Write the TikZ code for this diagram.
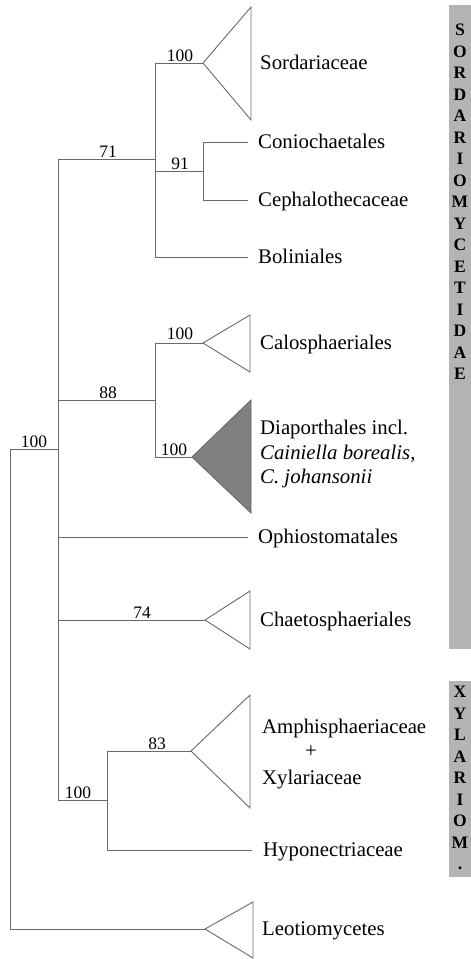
\documentclass[tikz,border=0pt]{standalone}
\usepackage{fontspec}
\setmainfont{Liberation Serif}
\definecolor{treegray}{RGB}{105,105,105}
\definecolor{bargray}{RGB}{180,180,180}
\definecolor{diapfill}{RGB}{128,128,128}
\begin{document}
\begin{tikzpicture}[x=1pt,y=-1pt,
  br/.style={draw=treegray, line width=0.9pt},
  tri/.style={draw=treegray, line width=0.9pt, line join=miter, fill=white},
  lab/.style={anchor=base west, inner sep=0pt, font=\fontsize{20.8}{25}\selectfont},
  bs/.style={anchor=south, inner sep=1.5pt, font=\fontsize{17.5}{21}\selectfont},
  bartext/.style={anchor=north, inner sep=0pt, align=center, font=\fontsize{17.5}{21.5}\selectfont\bfseries}]
\useasboundingbox (0,0) rectangle (471,959);
% grey side bars
\fill[bargray] (449,5) rectangle (471,649);
\fill[bargray] (449,681) rectangle (471,877);
\node[bartext] (sordbar) at (460,24) {S\\O\\R\\D\\A\\R\\I\\O\\M\\Y\\C\\E\\T\\I\\D\\A\\E};
\node[bartext] (xylbar) at (460,686) {X\\Y\\L\\A\\R\\I\\O\\M\\.};
% junction coordinates
\coordinate (R1) at (10,449);
\coordinate (R2) at (10,929);
\coordinate (A0) at (58,449);
\coordinate (A1) at (58,159);
\coordinate (A2) at (58,400);
\coordinate (A3) at (58,537);
\coordinate (A4) at (58,620);
\coordinate (A5) at (58,800);
\coordinate (B0) at (155,159);
\coordinate (B1) at (155,63);
\coordinate (B2) at (155,171);
\coordinate (B3) at (155,257);
\coordinate (C0) at (203,171);
\coordinate (C1) at (203,142);
\coordinate (C2) at (203,200);
\coordinate (D0) at (155,400);
\coordinate (D1) at (155,343);
\coordinate (D2) at (155,457);
\coordinate (E0) at (107,800);
\coordinate (E1) at (107,751);
\coordinate (E2) at (107,850);
% apexes and leaf ends
\coordinate (sordA) at (203,63);
\coordinate (caloA) at (203,343);
\coordinate (diapA) at (192,457);
\coordinate (chaeA) at (205,620);
\coordinate (amphA) at (191,751);
\coordinate (leoA) at (205,929);
\coordinate (conE) at (248,142);
\coordinate (cepE) at (248,200);
\coordinate (bolE) at (248,257);
\coordinate (ophE) at (248,537);
\coordinate (hypE) at (252,850);
% triangle corners
\coordinate (sordT) at (251,7);   \coordinate (sordB) at (251,120);
\coordinate (caloT) at (250,315); \coordinate (caloB) at (250,372);
\coordinate (diapT) at (251,400); \coordinate (diapB) at (251,513);
\coordinate (chaeT) at (250,591); \coordinate (chaeB) at (250,649);
\coordinate (amphT) at (250,695); \coordinate (amphB) at (250,808);
\coordinate (leoT) at (253,902);  \coordinate (leoB) at (253,958);
% branches
\draw[br] (A0) -- (R1) -- (R2) -- (leoA);
\draw[br] (A1) -- (A5);
\draw[br] (A1) -- (B0);
\draw[br] (sordA) -- (B1) -- (B3) -- (bolE);
\draw[br] (B2) -- (C0);
\draw[br] (conE) -- (C1) -- (C2) -- (cepE);
\draw[br] (A2) -- (D0);
\draw[br] (caloA) -- (D1) -- (D2) -- (diapA);
\draw[br] (A3) -- (ophE);
\draw[br] (A4) -- (chaeA);
\draw[br] (A5) -- (E0);
\draw[br] (amphA) -- (E1) -- (E2) -- (hypE);
% collapsed clades
\draw[tri] (sordA) -- (sordT) -- (sordB) -- cycle;
\draw[tri] (caloA) -- (caloT) -- (caloB) -- cycle;
\draw[tri, fill=diapfill] (diapA) -- (diapT) -- (diapB) -- cycle;
\draw[tri] (chaeA) -- (chaeT) -- (chaeB) -- cycle;
\draw[tri] (amphA) -- (amphT) -- (amphB) -- cycle;
\draw[tri] (leoA) -- (leoT) -- (leoB) -- cycle;
% support values
\node[bs] (s1) at (180,63) {100};
\node[bs] (s2) at (108,159) {71};
\node[bs] (s3) at (180,171) {91};
\node[bs] (s4) at (108,400) {88};
\node[bs] (s5) at (180,341) {100};
\node[bs] (s6) at (174,457) {100};
\node[bs] (s7) at (34,449) {100};
\node[bs] (s8) at (142,620) {74};
\node[bs] (s9) at (157,751) {83};
\node[bs] (s10) at (78,800) {100};
% taxon labels
\node[lab] (l1) at (260,69) {Sordariaceae};
\node[lab] (l2) at (258,148) {Coniochaetales};
\node[lab] (l3) at (258,206) {Cephalothecaceae};
\node[lab] (l4) at (258,263) {Boliniales};
\node[lab] (l5) at (260,349) {Calosphaeriales};
\node[lab] (l6a) at (260,434) {Diaporthales incl.};
\node[lab] (l6b) at (260,459) {\itshape Cainiella borealis,};
\node[lab] (l6c) at (260,483) {\itshape C. johansonii};
\node[lab] (l7) at (258,543) {Ophiostomatales};
\node[lab] (l8) at (260,626) {Chaetosphaeriales};
\node[lab] (l9a) at (262,733) {Amphisphaeriaceae};
\node[anchor=center, inner sep=0pt, font=\fontsize{20.8}{25}\selectfont] (l9b) at (311,752) {+};
\node[lab] (l9c) at (262,784) {Xylariaceae};
\node[lab] (l10) at (263,856) {Hyponectriaceae};
\node[lab] (l11) at (262,935) {Leotiomycetes};
\end{tikzpicture}
\end{document}
